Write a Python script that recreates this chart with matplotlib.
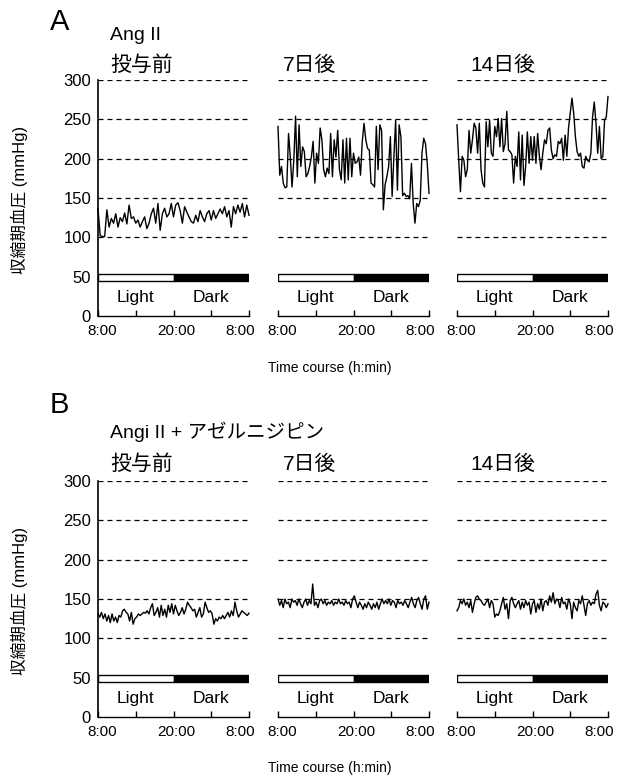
import numpy as np
import matplotlib
matplotlib.use("Agg")
import matplotlib.pyplot as plt
from matplotlib.patches import Rectangle
from matplotlib.transforms import ScaledTranslation

plt.rcParams['font.family'] = ['Liberation Sans', 'Noto Sans CJK JP', 'DejaVu Sans']

# ---------------- data ----------------
panel_letters = ["A", "B"]
group_titles = ["Ang II", "Angi II + アゼルニジピン"]
period_titles = ["投与前", "7日後", "14日後"]
y_ticks = [0, 50, 100, 150, 200, 250, 300]
grid_levels = [100, 150, 200, 250, 300]
x_ticks = [0, 6, 12, 18, 24]
x_tick_labels = ["8:00", "", "20:00", "", "8:00"]
phase_names = ["Light", "Dark"]
phase_bounds = [0, 12, 24]
ylabel = "収縮期血圧 (mmHg)"
xlabel = "Time course (h:min)"

a_pre = [136, 102, 101, 101, 135, 113, 124, 118, 130, 113, 125, 120, 131, 117, 141, 124,
         126, 118, 122, 113, 120, 126, 111, 118, 130, 137, 118, 143, 109, 130, 137, 126,
         130, 143, 126, 141, 144, 134, 118, 139, 132, 126, 120, 118, 128, 120, 134, 126,
         120, 130, 134, 122, 134, 124, 130, 136, 130, 139, 126, 134, 113, 139, 130, 141,
         132, 143, 126, 141, 128]
a_day7 = [241, 179, 190, 169, 163, 164, 232, 202, 164, 198, 254, 177, 243, 190, 215, 209,
          177, 181, 190, 202, 222, 169, 207, 194, 239, 224, 186, 177, 188, 181, 232, 177,
          224, 202, 236, 186, 173, 224, 169, 226, 173, 226, 177, 207, 194, 196, 202, 179,
          222, 245, 224, 213, 211, 169, 167, 164, 241, 186, 243, 236, 135, 167, 177, 190,
          228, 152, 202, 249, 160, 243, 228, 153, 156, 152, 153, 149, 194, 143, 118, 143,
          139, 147, 207, 226, 219, 194, 156]
a_day14 = [243, 198, 158, 203, 198, 177, 186, 236, 207, 224, 245, 239, 207, 245, 186, 169,
           164, 247, 215, 249, 207, 203, 241, 228, 251, 215, 251, 209, 219, 260, 211, 209,
           205, 169, 203, 190, 234, 173, 230, 166, 190, 234, 194, 228, 198, 228, 194, 232,
           203, 186, 207, 224, 219, 236, 239, 211, 200, 205, 203, 222, 219, 226, 198, 230,
           203, 239, 258, 277, 258, 228, 209, 203, 207, 190, 188, 203, 198, 196, 207, 253,
           272, 245, 207, 241, 200, 203, 249, 253, 279]
b_pre = [131, 127, 133, 125, 131, 122, 129, 120, 131, 122, 127, 120, 129, 127, 135, 137,
         133, 131, 122, 133, 118, 125, 127, 131, 129, 131, 133, 132, 135, 131, 139, 144,
         129, 133, 139, 127, 142, 129, 137, 127, 142, 133, 144, 131, 142, 135, 129, 133,
         139, 131, 137, 146, 142, 139, 135, 137, 127, 133, 139, 127, 131, 146, 139, 133,
         135, 131, 118, 125, 122, 127, 125, 129, 125, 129, 133, 127, 135, 129, 146, 135,
         127, 131, 135, 133, 131, 129, 132]
b_day7 = [150, 142, 148, 139, 150, 144, 146, 139, 150, 146, 148, 142, 150, 144, 139, 146,
          150, 142, 148, 144, 169, 142, 146, 139, 148, 150, 144, 148, 142, 146, 144, 148,
          142, 146, 144, 150, 144, 146, 142, 148, 144, 146, 139, 150, 154, 146, 139, 146,
          142, 137, 144, 139, 146, 142, 137, 144, 139, 146, 137, 144, 150, 144, 148, 144,
          150, 142, 148, 146, 139, 148, 144, 146, 142, 148, 144, 139, 146, 152, 144, 139,
          148, 152, 144, 137, 150, 154, 137, 146]
b_day14 = [135, 139, 148, 144, 150, 142, 146, 139, 148, 133, 144, 152, 154, 150, 148, 144,
           142, 146, 150, 139, 148, 144, 127, 131, 129, 135, 144, 152, 137, 144, 125, 148,
           152, 144, 139, 144, 148, 137, 146, 139, 148, 142, 146, 131, 144, 148, 133, 144,
           137, 150, 135, 146, 148, 142, 154, 146, 158, 144, 150, 148, 139, 152, 144, 146,
           137, 150, 144, 125, 146, 139, 135, 148, 144, 154, 142, 129, 144, 148, 142, 146,
           144, 156, 161, 142, 135, 146, 144, 139, 144]

series = [[a_pre, a_day7, a_day14], [b_pre, b_day7, b_day14]]

# ---------------- layout ----------------
W, H = 621, 779
fig = plt.figure(figsize=(W / 100, H / 100), dpi=100)

col_left = [98, 278, 457]
col_w = 151
row_top = [80, 481]   # pixel of y=300
row_h = 236
letter_y = [22, 405]
group_y = [35, 432]
group_size = [14, 14]
sub_y = [65, 464]
sub_x = [110, 283, 470]
xlabel_y = [368, 768]
label_shift_px = {0: 4, 2: 3, 4: -9}

def fx(p):
    return p / W

def fy(p):
    return 1 - p / H

for r in range(2):
    fig.text(fx(50), fy(letter_y[r]), panel_letters[r], fontsize=21, va='center', ha='left')
    fig.text(fx(110), fy(group_y[r]), group_titles[r], fontsize=group_size[r],
             va='center', ha='left')
    fig.text(fx(330), fy(xlabel_y[r]), xlabel, fontsize=10, va='center', ha='center')
    fig.text(fx(19), fy(row_top[r] + row_h / 2 + 2), ylabel, fontsize=12, rotation=90,
             va='center', ha='center')
    for c in range(3):
        fig.text(fx(sub_x[c]), fy(sub_y[r]), period_titles[c], fontsize=15,
                 va='center', ha='left')
        ax = fig.add_axes([fx(col_left[c]), fy(row_top[r] + row_h), col_w / W, row_h / H])
        vals = series[r][c]
        t = np.linspace(0, 24, len(vals))
        for g in grid_levels:
            ax.axhline(g, color='black', lw=0.9, ls=(0, (4, 3.2)), zorder=1)
        ax.plot(t, vals, color='black', lw=1.0, zorder=3, clip_on=False)
        # light / dark bar
        ax.add_patch(Rectangle((phase_bounds[0], 44), phase_bounds[1] - phase_bounds[0], 9,
                               facecolor='white', edgecolor='black', lw=1.0, zorder=2))
        ax.add_patch(Rectangle((phase_bounds[1], 44), phase_bounds[2] - phase_bounds[1], 9,
                               facecolor='black', edgecolor='black', lw=1.0, zorder=2))
        for i, name in enumerate(phase_names):
            ax.text((phase_bounds[i] + phase_bounds[i + 1]) / 2, 23, name, fontsize=12.5,
                    ha='center', va='center')
        ax.set_xlim(0, 24)
        ax.set_ylim(0, 300)
        ax.set_xticks(x_ticks)
        ax.set_xticklabels(x_tick_labels, fontsize=11)
        ax.tick_params(axis='x', direction='in', length=4, width=1, pad=6)
        for k, lab in enumerate(ax.get_xticklabels()):
            if k in label_shift_px:
                lab.set_transform(lab.get_transform() +
                                  ScaledTranslation(label_shift_px[k] / 100, 0,
                                                    fig.dpi_scale_trans))
        for s in ['top', 'right']:
            ax.spines[s].set_visible(False)
        ax.spines['bottom'].set_linewidth(1.0)
        if c == 0:
            ax.set_yticks(y_ticks)
            ax.set_yticklabels([str(v) for v in y_ticks], fontsize=12)
            ax.tick_params(axis='y', length=0, pad=5)
            ax.spines['left'].set_linewidth(1.2)
        else:
            ax.spines['left'].set_visible(False)
            ax.set_yticks([])
        ax.patch.set_alpha(0)

fig.savefig("out.png", dpi=100)
